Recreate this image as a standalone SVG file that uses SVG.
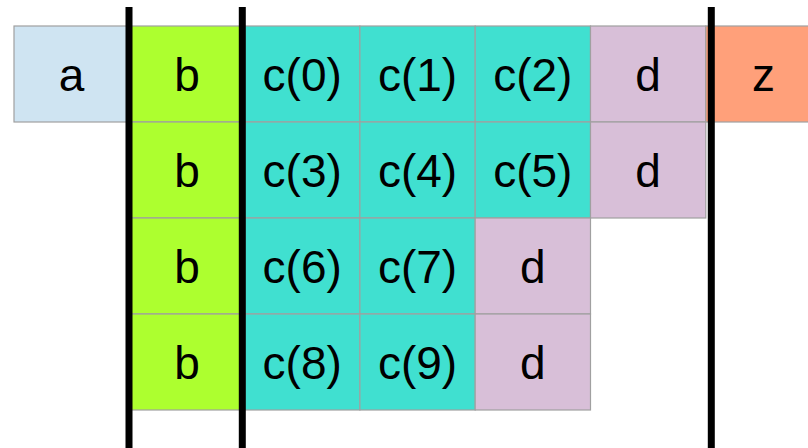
<svg xmlns="http://www.w3.org/2000/svg" width="808" height="448" viewBox="0 0 808 448">
<style>
.cell{stroke:#a0a0a0;stroke-width:1.2}
.a{fill:#cfe4f2}.b{fill:#adff2f}.c{fill:#40e0d0}.d{fill:#d8bfd8}.z{fill:#ffa07a}
text{font-family:"Liberation Sans",Arial,sans-serif;font-size:46px;text-anchor:middle;fill:#000}
.bar{stroke:#000;stroke-width:7}
</style>
<g id="a"><rect class="cell a" x="14" y="26" width="115.3" height="96"/><text x="71.6" y="91">a</text></g>
<g id="b0"><rect class="cell b" x="129.3" y="26" width="115.3" height="96"/><text x="187" y="91">b</text></g>
<g id="b1"><rect class="cell b" x="129.3" y="122" width="115.3" height="96"/><text x="187" y="187">b</text></g>
<g id="b2"><rect class="cell b" x="129.3" y="218" width="115.3" height="96"/><text x="187" y="283">b</text></g>
<g id="b3"><rect class="cell b" x="129.3" y="314" width="115.3" height="96"/><text x="187" y="379">b</text></g>
<g id="c0"><rect class="cell c" x="244.6" y="26" width="115.3" height="96"/><text x="302.2" y="91">c(0)</text></g>
<g id="c1"><rect class="cell c" x="359.9" y="26" width="115.3" height="96"/><text x="417.5" y="91">c(1)</text></g>
<g id="c2"><rect class="cell c" x="475.2" y="26" width="115.3" height="96"/><text x="532.8" y="91">c(2)</text></g>
<g id="d0"><rect class="cell d" x="590.5" y="26" width="115.3" height="96"/><text x="648.1" y="91">d</text></g>
<g id="z"><rect class="cell z" x="705.8" y="26" width="115.3" height="96"/><text x="763.4" y="91">z</text></g>
<g id="c3"><rect class="cell c" x="244.6" y="122" width="115.3" height="96"/><text x="302.2" y="187">c(3)</text></g>
<g id="c4"><rect class="cell c" x="359.9" y="122" width="115.3" height="96"/><text x="417.5" y="187">c(4)</text></g>
<g id="c5"><rect class="cell c" x="475.2" y="122" width="115.3" height="96"/><text x="532.8" y="187">c(5)</text></g>
<g id="d1"><rect class="cell d" x="590.5" y="122" width="115.3" height="96"/><text x="648.1" y="187">d</text></g>
<g id="c6"><rect class="cell c" x="244.6" y="218" width="115.3" height="96"/><text x="302.2" y="283">c(6)</text></g>
<g id="c7"><rect class="cell c" x="359.9" y="218" width="115.3" height="96"/><text x="417.5" y="283">c(7)</text></g>
<g id="d2"><rect class="cell d" x="475.2" y="218" width="115.3" height="96"/><text x="532.8" y="283">d</text></g>
<g id="c8"><rect class="cell c" x="244.6" y="314" width="115.3" height="96"/><text x="302.2" y="379">c(8)</text></g>
<g id="c9"><rect class="cell c" x="359.9" y="314" width="115.3" height="96"/><text x="417.5" y="379">c(9)</text></g>
<g id="d3"><rect class="cell d" x="475.2" y="314" width="115.3" height="96"/><text x="532.8" y="379">d</text></g>
<g id="connectors">
<line class="bar" x1="129" y1="7" x2="129" y2="448"/>
<line class="bar" x1="242.3" y1="7" x2="242.3" y2="448"/>
<line class="bar" x1="711.3" y1="7" x2="711.3" y2="448"/>
</g>
</svg>
